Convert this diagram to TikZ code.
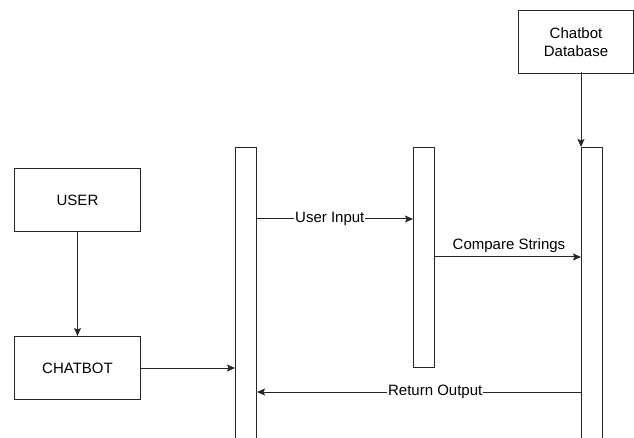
\documentclass[tikz,border=0pt]{standalone}
\usepackage{fontspec}
\setmainfont{Liberation Sans}
\usetikzlibrary{arrows.meta,calc}
\begin{document}
\begin{tikzpicture}[x=1pt,y=-1pt,
  line width=1pt,
  every node/.style={font=\fontsize{15}{17.5}\selectfont},
  entity/.style={draw=black!85, minimum width=126pt, minimum height=63pt, inner sep=0pt, anchor=north west},
  bar/.style={draw=black!85, minimum width=21pt, inner sep=0pt, anchor=north west},
  msg/.style={draw=black!85, -{Stealth[length=8pt,width=7pt,inset=1.5pt]}},
  lbl/.style={fill=white, inner sep=1pt}]
\useasboundingbox (0,0) rectangle (634,438);
\clip (0,0) rectangle (634,438);

% actors
\node[entity] (user) at (14,168) {USER};
\node[entity] (chatbot) at (14,336) {CHATBOT};
\node[entity, minimum width=115pt, align=center] (db) at (518,10) {Chatbot\\Database};

% activation bars
\node[bar, minimum height=300pt] (bar1) at (235,147) {};
\node[bar, minimum height=220pt] (bar2) at (413,147) {};
\node[bar, minimum height=300pt] (bar3) at (581,147) {};

% message anchors
\coordinate (ui) at (256,219);
\coordinate (cs) at (434,257);
\coordinate (ro) at (581,392);
\coordinate (dbout) at (581,72);

% connectors
\draw[msg] (user) -- (chatbot);
\draw[msg] (chatbot.east) -- (chatbot.east -| bar1.west);
\draw[msg] (dbout) -- (bar3.north west);
\draw[msg] (ui) -- node[lbl, pos=0.47] {User Input} (ui -| bar2.west);
\draw[msg] (cs) -- node[above=3pt, pos=0.51, inner sep=1pt] {Compare Strings} (cs -| bar3.west);
\draw[msg] (ro) -- node[lbl, pos=0.45] {Return Output} (ro -| bar1.east);
\end{tikzpicture}
\end{document}
